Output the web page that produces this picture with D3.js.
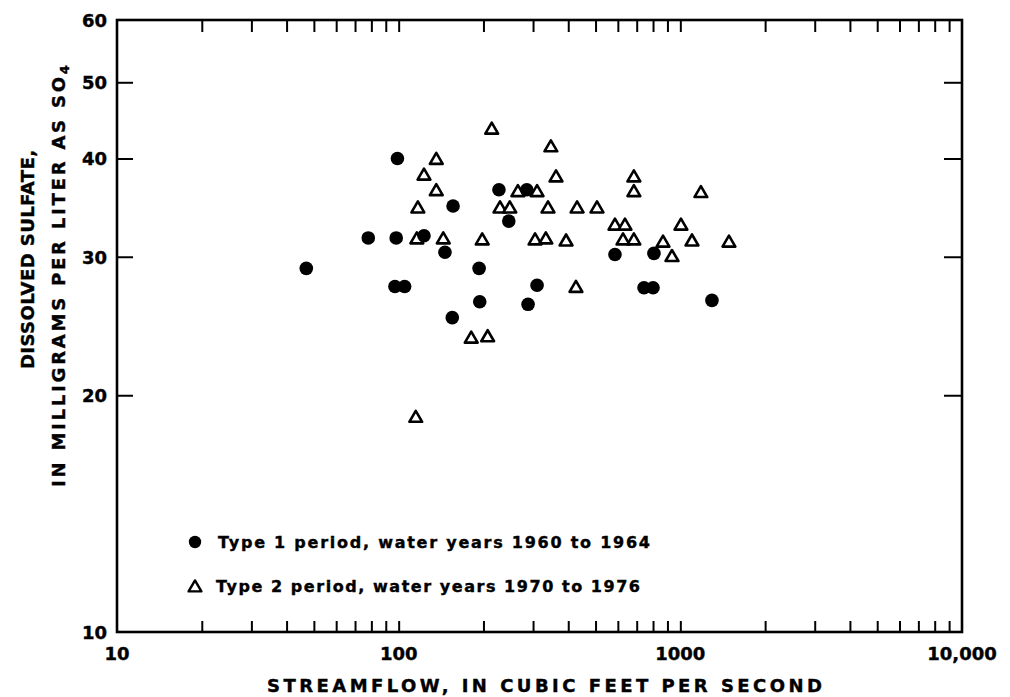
<!DOCTYPE html>
<html>
<head>
<meta charset="utf-8">
<script src="https://cdn.jsdelivr.net/npm/d3@7"></script>
<style>
  body { margin: 0; background: #fff; }
  text { font-family: "DejaVu Sans", "Liberation Sans", sans-serif; font-weight: bold; fill: #000; stroke: #000; stroke-width: 0.4px; }
</style>
</head>
<body>
<div id="chart"></div>
<script>
// Type 1 period, water years 1960-1964
var type1Flow    = [99, 78, 98, 123, 47, 97, 105, 227, 156, 246, 285, 146, 193, 310, 194, 288, 155, 586, 806, 743, 800, 1295];
var type1Sulfate = [40, 31.7, 31.7, 31.9, 29.0, 27.5, 27.5, 36.5, 34.8, 33.3, 36.5, 30.4, 29.0, 27.6, 26.3, 26.1, 25.1, 30.2, 30.3, 27.4, 27.4, 26.4];

// Type 2 period, water years 1970-1976
var type2Flow    = [136, 123, 136, 117, 116, 115, 214, 347, 362, 265, 310, 229, 248, 339, 430, 144, 198, 305, 333, 393, 426, 181, 207,
                    684, 684, 1183, 506, 586, 636, 1005, 626, 684, 868, 1100, 1488, 934];
var type2Sulfate = [40.0, 38.2, 36.5, 34.7, 31.7, 18.8, 43.7, 41.5, 38.0, 36.4, 36.4, 34.7, 34.7, 34.7, 34.7, 31.7, 31.6, 31.6, 31.7, 31.5, 27.5, 23.7, 23.8,
                    38.0, 36.4, 36.3, 34.7, 33.0, 33.0, 33.0, 31.6, 31.6, 31.4, 31.5, 31.4, 30.1];

var xTickValues = [20, 30, 40, 50, 60, 70, 80, 90, 100, 200, 300, 400, 500, 600, 700, 800, 900, 1000,
                   2000, 3000, 4000, 5000, 6000, 7000, 8000, 9000];
var xLabelValues = [10, 100, 1000, 10000];
var xLabels = ["10", "100", "1000", "10,000"];
var yTickValues = [20, 30, 40, 50];
var yLabelValues = [10, 20, 30, 40, 50, 60];
var legendLabels = ["Type 1 period, water years 1960 to 1964", "Type 2 period, water years 1970 to 1976"];

var W = 1010, H = 697;
var box = {left: 117, right: 962, top: 20, bottom: 632};

var svg = d3.select("#chart").append("svg").attr("width", W).attr("height", H);

var x = d3.scaleLog().domain([10, 10000]).range([box.left, box.right]);
var y = d3.scaleLog().domain([10, 60]).range([box.bottom, box.top]);

// inward ticks on all four sides
function noDomain(g) { g.select(".domain").remove(); g.selectAll("line").attr("stroke", "#000").attr("stroke-width", 2); }

svg.append("g").attr("transform", "translate(0," + box.bottom + ")")
   .call(d3.axisBottom(x).tickValues(xTickValues).tickSize(-11).tickFormat(""))
   .call(noDomain);
svg.append("g").attr("transform", "translate(0," + box.top + ")")
   .call(d3.axisTop(x).tickValues(xTickValues).tickSize(-12).tickFormat(""))
   .call(noDomain);
svg.append("g").attr("transform", "translate(" + box.left + ",0)")
   .call(d3.axisLeft(y).tickValues(yTickValues).tickSize(-16).tickFormat(""))
   .call(noDomain);
svg.append("g").attr("transform", "translate(" + box.right + ",0)")
   .call(d3.axisRight(y).tickValues(yTickValues).tickSize(-18).tickFormat(""))
   .call(noDomain);

svg.append("rect")
   .attr("x", box.left).attr("y", box.top)
   .attr("width", box.right - box.left).attr("height", box.bottom - box.top)
   .attr("fill", "none").attr("stroke", "#000").attr("stroke-width", 2.6);

// tick labels
svg.selectAll(".xlab").data(xLabelValues).enter().append("text")
   .attr("class", "xlab")
   .attr("x", function(d) { return x(d); })
   .attr("y", 660)
   .attr("text-anchor", "middle")
   .style("font-size", "18px")
   .text(function(d, i) { return xLabels[i]; });

svg.selectAll(".ylab").data(yLabelValues).enter().append("text")
   .attr("class", "ylab")
   .attr("x", 107)
   .attr("y", function(d) { return y(d) + 7; })
   .attr("text-anchor", "end")
   .style("font-size", "18px")
   .text(function(d) { return d; });

// axis titles
svg.append("text")
   .attr("x", 267).attr("y", 692)
   .attr("textLength", 555).attr("lengthAdjust", "spacing")
   .style("font-size", "18px")
   .text("STREAMFLOW, IN CUBIC FEET PER SECOND");

svg.append("text")
   .attr("transform", "translate(34,369) rotate(-90)")
   .attr("textLength", 219).attr("lengthAdjust", "spacing")
   .style("font-size", "18px")
   .text("DISSOLVED SULFATE,");

var yt2 = svg.append("text")
   .attr("transform", "translate(65,487) rotate(-90)")
   .style("font-size", "18px");
yt2.append("tspan").attr("textLength", 410).attr("lengthAdjust", "spacing").text("IN MILLIGRAMS PER LITER AS SO");
yt2.append("tspan").attr("dy", 4).style("font-size", "13px").text("4");

// markers
var triPath = "M0,-5.6L6.4,5.4L-6.4,5.4Z";

svg.selectAll(".t2").data(type2Flow).enter().append("path")
   .attr("class", "t2")
   .attr("d", triPath)
   .attr("transform", function(d, i) { return "translate(" + x(d) + "," + y(type2Sulfate[i]) + ")"; })
   .attr("fill", "#fff").attr("stroke", "#000").attr("stroke-width", 2.6).attr("stroke-linejoin", "round");

svg.selectAll(".t1").data(type1Flow).enter().append("circle")
   .attr("class", "t1")
   .attr("cx", function(d) { return x(d); })
   .attr("cy", function(d, i) { return y(type1Sulfate[i]); })
   .attr("r", 6.8)
   .attr("fill", "#000");

// legend
svg.append("circle").attr("cx", 195).attr("cy", 542).attr("r", 6.2).attr("fill", "#000");
svg.append("path").attr("d", triPath).attr("transform", "translate(195,586)")
   .attr("fill", "#fff").attr("stroke", "#000").attr("stroke-width", 2.4).attr("stroke-linejoin", "round");

svg.append("text").attr("x", 218).attr("y", 548)
   .attr("textLength", 432).attr("lengthAdjust", "spacing")
   .style("font-size", "16px").text(legendLabels[0]);
svg.append("text").attr("x", 216).attr("y", 592)
   .attr("textLength", 424).attr("lengthAdjust", "spacing")
   .style("font-size", "16px").text(legendLabels[1]);
</script>
</body>
</html>
